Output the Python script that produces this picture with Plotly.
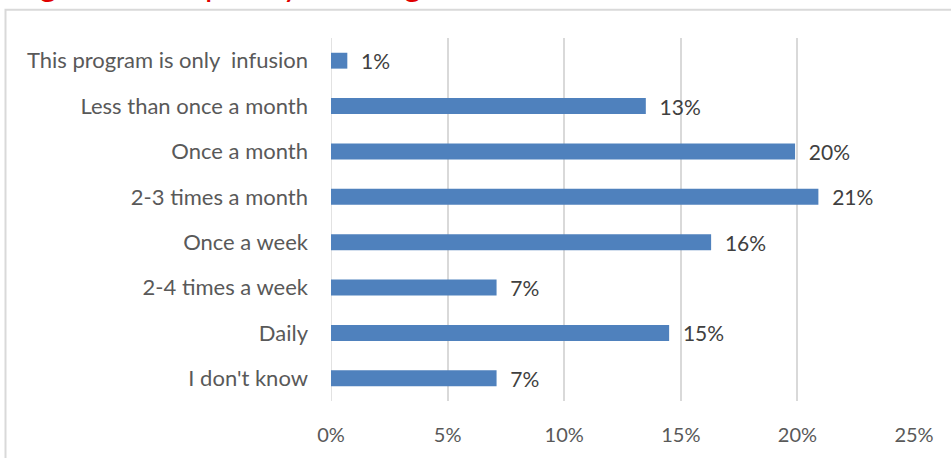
import plotly.graph_objects as go

categories = [
    "This program is only  infusion",
    "Less than once a month",
    "Once a month",
    "2-3 times a month",
    "Once a week",
    "2-4 times a week",
    "Daily",
    "I don't know",
]
values = [0.7, 13.5, 19.9, 20.9, 16.3, 7.1, 14.5, 7.1]
labels = ["1%", "13%", "20%", "21%", "16%", "7%", "15%", "7%"]
tick_vals = [0, 5, 10, 15, 20, 25]
tick_text = ["0%", "5%", "10%", "15%", "20%", "25%"]
title_text = "Figure 5: Frequency of using"

W, H = 951, 458
L, R, T, B = 331, 37, 38, 55
pw, ph = W - L - R, H - T - B

def px_x(p):
    return (p - L) / pw

def px_y(p):
    return (H - B - p) / ph

font_family = "Lato, 'Open Sans', sans-serif"

fig = go.Figure(
    go.Bar(
        x=values,
        y=categories,
        orientation="h",
        marker=dict(color="#4F81BD", line=dict(width=0)),
        width=0.35,
        text=["  " + t for t in labels],
        textposition="outside",
        constraintext="none",
        cliponaxis=False,
        textfont=dict(size=21, color="#404040", family=font_family),
    )
)

fig.update_layout(
    width=W,
    height=H,
    margin=dict(l=L, r=R, t=T, b=B, pad=0),
    paper_bgcolor="white",
    plot_bgcolor="white",
    showlegend=False,
    font=dict(family=font_family, size=21, color="#595959"),
    xaxis=dict(
        range=[0, 25],
        tickvals=tick_vals,
        ticktext=tick_text,
        showgrid=True,
        gridcolor="#D9D9D9",
        gridwidth=1.5,
        zeroline=False,
        showline=False,
        ticks="",
        ticklabelstandoff=20,
        tickfont=dict(size=20, color="#595959"),
        fixedrange=True,
    ),
    yaxis=dict(
        autorange="reversed",
        showgrid=False,
        zeroline=False,
        showline=False,
        ticks="",
        ticklabelstandoff=22,
        tickfont=dict(size=22, color="#595959"),
        fixedrange=True,
    ),
    shapes=[
        dict(
            type="rect",
            xref="paper",
            yref="paper",
            x0=px_x(5.5),
            x1=px_x(W + 20),
            y0=px_y(H + 20),
            y1=px_y(9.5),
            line=dict(color="#D9D9D9", width=2),
            fillcolor="rgba(0,0,0,0)",
            layer="below",
        ),
        dict(
            type="line",
            xref="x",
            yref="paper",
            x0=0,
            x1=0,
            y0=0,
            y1=1,
            line=dict(color="#D9D9D9", width=1.5),
            layer="below",
        ),
    ],
    annotations=[
        dict(
            text=title_text,
            xref="paper",
            yref="paper",
            x=px_x(11),
            y=px_y(5),
            xanchor="left",
            yanchor="bottom",
            showarrow=False,
            font=dict(size=33, color="#E00000", family=font_family),
        )
    ],
)

fig.write_html(
    "out.html",
    config={"displayModeBar": False},
    post_script="document.body.style.margin='0';",
)
